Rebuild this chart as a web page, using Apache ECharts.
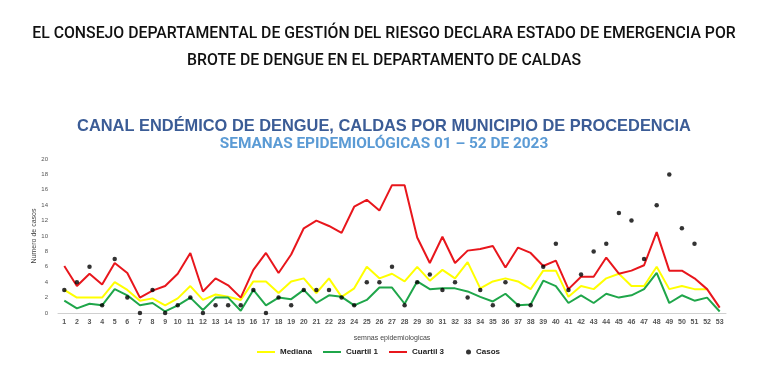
<!DOCTYPE html>
<html>
<head>
<meta charset="utf-8">
<script src="https://cdn.jsdelivr.net/npm/echarts@6/dist/echarts.min.js"></script>
<style>
  html, body { margin: 0; padding: 0; background: #fff; }
  #chart { width: 768px; height: 375px; }
</style>
</head>
<body>
<div id="chart"></div>
<script>
// semanas epidemiologicas 1..53
var semanas = [];
for (var i = 1; i <= 53; i++) semanas.push(String(i));

var mediana = [3, 2, 2, 2, 4, 3, 1.6, 1.9, 1, 1.9, 3.5, 1.7, 2.4, 2.1, 1.7, 4.1, 4.1, 2.6, 4.1, 4.5,
  2.6, 4.5, 2.1, 3.2, 6, 4.5, 5.1, 4.1, 6, 4.2, 5.6, 4.5, 6.6, 3.2, 4.1, 4.5, 4.1, 3.1, 5.5, 5.5,
  2.1, 3.5, 3.1, 4.5, 5.1, 3.5, 3.5, 6, 3.1, 3.5, 3.1, 3.1, null];
var cuartil1 = [1.6, 0.6, 1.2, 1, 3.1, 2.3, 1, 1.3, 0.2, 1, 2, 0.4, 2, 2, 0.3, 3, 1, 2, 1.8, 3,
  1.3, 2.3, 2.1, 1, 1.7, 3.3, 3.3, 1.2, 4.1, 3.1, 3.2, 3.2, 2.8, 2.1, 1.5, 2.5, 1, 1.1, 4.2, 3.5,
  1.3, 2.3, 1.3, 2.5, 2, 2.3, 3.1, 5.2, 1.3, 2.3, 1.6, 2, 0.2];
var cuartil3 = [6.1, 3.5, 5.1, 3.7, 6.5, 5.2, 2, 2.9, 3.5, 5.1, 7.8, 2.8, 4.5, 3.6, 2, 5.6, 7.8, 5.2, 7.6, 11,
  12, 11.3, 10.4, 13.8, 14.7, 13.3, 16.6, 16.6, 9.8, 6.5, 9.9, 6.5, 8.1, 8.3, 8.7, 5.9, 8.5, 7.8, 6.1, 6.8,
  3.1, 4.7, 4.7, 7.2, 5.1, 5.5, 6.2, 10.5, 5.5, 5.5, 4.5, 3.1, 0.7];
var casos = [3, 4, 6, 1, 7, 2, 0, 3, 0, 1, 2, 0, 1, 1, 1, 3, 0, 2, 1, 3,
  3, 3, 2, 1, 4, 4, 6, 1, 4, 5, 3, 4, 2, 3, 1, 4, 1, 1, 6, 9,
  3, 5, 8, 9, 13, 12, 7, 14, 18, 11, 9, null, null];

var legendText = { fontFamily: 'Liberation Sans', fontSize: 8, fontWeight: 'bold', color: '#222' };

var chart = echarts.init(document.getElementById('chart'));
chart.setOption({
  animation: false,
  backgroundColor: '#ffffff',
  title: [{
    text: 'EL CONSEJO DEPARTAMENTAL DE GESTIÓN DEL RIESGO DECLARA ESTADO DE EMERGENCIA POR\nBROTE DE DENGUE EN EL DEPARTAMENTO DE CALDAS',
    left: 'center', top: 16,
    textStyle: { fontFamily: 'Roboto', fontSize: 15.8, fontWeight: 500, color: '#111', lineHeight: 27 }
  }, {
    text: 'CANAL ENDÉMICO DE DENGUE, CALDAS POR MUNICIPIO DE PROCEDENCIA',
    left: 'center', top: 113,
    textStyle: { fontFamily: 'Liberation Sans', fontSize: 16.4, fontWeight: 'bold', color: '#3b5c96' }
  }, {
    text: 'SEMANAS EPIDEMIOLÓGICAS 01 – 52 DE 2023',
    left: 'center', top: 132,
    textStyle: { fontFamily: 'Roboto', fontSize: 15.4, fontWeight: 'bold', color: '#5b9bd5' }
  }],
  legend: [{
    left: 252, top: 343, itemGap: 11, itemWidth: 18, itemHeight: 2,
    icon: 'rect',
    textStyle: legendText,
    data: ['Mediana', 'Cuartil 1', 'Cuartil 3']
  }, {
    left: 461, top: 343, itemWidth: 5, itemHeight: 5,
    icon: 'circle',
    textStyle: legendText,
    data: ['Casos']
  }],
  grid: { left: 58, right: 42, top: 159, bottom: 62 },
  xAxis: {
    type: 'category',
    data: semanas,
    boundaryGap: true,
    name: 'semnas epidemiologicas',
    nameLocation: 'middle',
    nameGap: 22,
    nameTextStyle: { fontFamily: 'Liberation Sans', fontSize: 7, color: '#444' },
    axisLine: { lineStyle: { color: '#d0d0d0' } },
    axisTick: { show: false },
    axisLabel: { interval: 0, fontFamily: 'Liberation Sans', fontSize: 7, fontWeight: 'bold', color: '#555', margin: 6 }
  },
  yAxis: {
    type: 'value',
    min: 0, max: 20, interval: 2,
    name: 'Numero de casos',
    nameLocation: 'middle',
    nameGap: 20,
    nameMoveOverlap: false,
    nameTextStyle: { fontFamily: 'Liberation Sans', fontSize: 7, color: '#444' },
    axisLine: { show: false },
    axisTick: { show: false },
    splitLine: { show: false },
    axisLabel: { fontFamily: 'Liberation Sans', fontSize: 6, color: '#555', margin: 10 }
  },
  series: [{
    name: 'Mediana', type: 'line', data: mediana,
    symbol: 'none', lineStyle: { width: 2, color: '#ffff00' }, itemStyle: { color: '#ffff00' }, z: 2
  }, {
    name: 'Cuartil 1', type: 'line', data: cuartil1,
    symbol: 'none', lineStyle: { width: 2, color: '#1fa64a' }, itemStyle: { color: '#1fa64a' }, z: 3
  }, {
    name: 'Cuartil 3', type: 'line', data: cuartil3,
    symbol: 'none', lineStyle: { width: 2, color: '#e8161c' }, itemStyle: { color: '#e8161c' }, z: 4
  }, {
    name: 'Casos', type: 'scatter', data: casos,
    symbol: 'circle', symbolSize: 4.5, itemStyle: { color: '#000' }, z: 5
  }]
});
</script>
</body>
</html>
